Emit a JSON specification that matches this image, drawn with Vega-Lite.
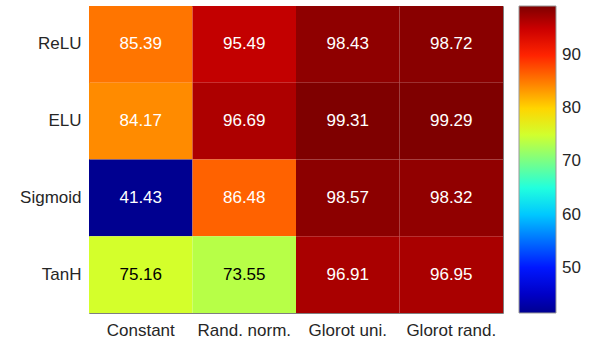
{
  "$schema": "https://vega.github.io/schema/vega-lite/v6.json",
  "width": 414,
  "height": 307,
  "autosize": "none",
  "padding": {"left": 89, "top": 6, "right": 95, "bottom": 39},
  "background": "white",
  "config": {
    "font": "Liberation Sans",
    "view": {"stroke": "#7f7f7f", "strokeWidth": 1},
    "axis": {"labelFont": "Liberation Sans", "labelFontSize": 17, "labelColor": "#262626", "ticks": false, "domain": false, "grid": false, "title": null}
  },
  "data": {
    "values": [
      {"act": "ReLU", "init": "Constant", "acc": 85.39},
      {"act": "ReLU", "init": "Rand. norm.", "acc": 95.49},
      {"act": "ReLU", "init": "Glorot uni.", "acc": 98.43},
      {"act": "ReLU", "init": "Glorot rand.", "acc": 98.72},
      {"act": "ELU", "init": "Constant", "acc": 84.17},
      {"act": "ELU", "init": "Rand. norm.", "acc": 96.69},
      {"act": "ELU", "init": "Glorot uni.", "acc": 99.31},
      {"act": "ELU", "init": "Glorot rand.", "acc": 99.29},
      {"act": "Sigmoid", "init": "Constant", "acc": 41.43},
      {"act": "Sigmoid", "init": "Rand. norm.", "acc": 86.48},
      {"act": "Sigmoid", "init": "Glorot uni.", "acc": 98.57},
      {"act": "Sigmoid", "init": "Glorot rand.", "acc": 98.32},
      {"act": "TanH", "init": "Constant", "acc": 75.16},
      {"act": "TanH", "init": "Rand. norm.", "acc": 73.55},
      {"act": "TanH", "init": "Glorot uni.", "acc": 96.91},
      {"act": "TanH", "init": "Glorot rand.", "acc": 96.95}
    ]
  },
  "encoding": {
    "x": {"field": "init", "type": "nominal", "sort": ["Constant", "Rand. norm.", "Glorot uni.", "Glorot rand."], "scale": {"paddingInner": 0, "paddingOuter": 0}, "axis": {"labelAngle": 0, "labelPadding": 9, "orient": "bottom"}},
    "y": {"field": "act", "type": "nominal", "sort": ["ReLU", "ELU", "Sigmoid", "TanH"], "scale": {"paddingInner": 0, "paddingOuter": 0}, "axis": {"labelPadding": 8}}
  },
  "layer": [
    {
      "mark": {"type": "rect"},
      "encoding": {
        "color": {
          "field": "acc", "type": "quantitative",
          "scale": {
            "domain": [41.43, 48.665, 55.9, 63.135, 70.37, 77.605, 84.84, 92.075, 99.31],
            "range": ["#000090", "#0000FF", "#007FFF", "#00FFFF", "#7FFF7F", "#FFFF00", "#FF7F00", "#FF0000", "#7F0000"],
            "interpolate": "rgb"
          },
          "legend": {
            "title": null, "orient": "none", "direction": "vertical",
            "legendX": 430, "legendY": 0,
            "gradientLength": 307, "gradientThickness": 37,
            "gradientStrokeColor": "#999999", "gradientStrokeWidth": 1,
            "values": [50, 60, 70, 80, 90],
            "labelFontSize": 17, "labelColor": "#262626", "labelFont": "Liberation Sans",
            "labelOffset": 6, "labelOverlap": false
          }
        }
      }
    },
    {
      "mark": {"type": "text", "fontSize": 17, "font": "Liberation Sans"},
      "encoding": {
        "text": {"field": "acc", "type": "quantitative", "format": ".2f"},
        "color": {
          "condition": {"test": "datum.acc > 60 && datum.acc < 80", "value": "#000000"},
          "value": "#FFFFFF"
        }
      }
    }
  ]
}
